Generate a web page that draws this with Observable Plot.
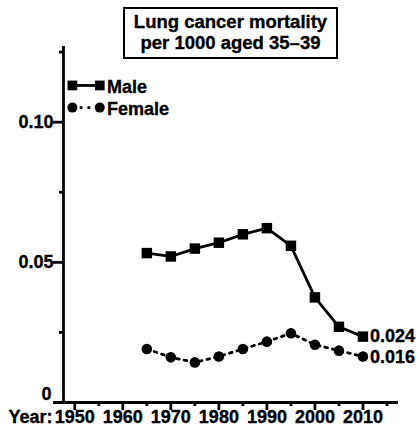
<!DOCTYPE html>
<html>
<head>
<meta charset="utf-8">
<script src="https://cdn.jsdelivr.net/npm/d3@7"></script>
<script src="https://cdn.jsdelivr.net/npm/@observablehq/plot@0.6"></script>
<style>
  body { margin: 0; background: #fff; }
  #wrap { position: relative; width: 419px; height: 435px; font-family: "Liberation Sans", Arial, sans-serif; }
  #title { position: absolute; left: 123px; top: 7px; width: 211px; height: 46px; border: 2.5px solid #000;
           font-weight: bold; font-size: 18.5px; line-height: 21px; text-align: center; box-sizing: content-box;
           padding-top: 2px; background: #fff; -webkit-text-stroke: 0.35px #000; white-space: nowrap; }
  svg text { stroke: #000; stroke-width: 0.35px; }
</style>
</head>
<body>
<div id="wrap"><div id="title">Lung cancer mortality<br>per 1000 aged 35–39</div></div>
<script>
const years = [1965, 1970, 1975, 1980, 1985, 1990, 1995, 2000, 2005, 2010];
const male = [0.0533, 0.0521, 0.0549, 0.0570, 0.0600, 0.0622, 0.0559, 0.0375, 0.0270, 0.0235];
const female = [0.0191, 0.0161, 0.0143, 0.0164, 0.0191, 0.0217, 0.0247, 0.0206, 0.0185, 0.0164];
const xMajor = [1950, 1960, 1970, 1980, 1990, 2000, 2010];
const xMinor = [1955, 1965, 1975, 1985, 1995, 2005, 2015];
const yMajor = [0.05, 0.10];
const yMajorLabels = ["0.05", "0.10"];
const yZero = [0];
const yZeroLabel = "0";
const yMinor = [0.025, 0.075, 0.125];
const endLabels = ["0.024", "0.016"];
const seriesNames = ["Male", "Female"];

const maleData = years.map((y, i) => ({year: y, v: male[i]}));
const femaleData = years.map((y, i) => ({year: y, v: female[i]}));
const lastM = maleData[maleData.length - 1];
const lastF = femaleData[femaleData.length - 1];

const W = 2.8;
const FS = 18;

const chart = Plot.plot({
  width: 419,
  height: 435,
  marginLeft: 63,
  marginRight: 21,
  marginTop: 46,
  marginBottom: 33,
  style: {fontFamily: "'Liberation Sans', Arial, sans-serif", fontSize: FS + "px", fontWeight: "bold", background: "transparent"},
  x: {domain: [1947.65, 2017.4]},
  y: {domain: [0, 0.127]},
  marks: [
    // axis lines
    Plot.ruleY([0], {x1: 1945.6, x2: 2017.4, strokeWidth: W}),
    Plot.ruleX([1947.65], {y1: 0, y2: 0.127, strokeWidth: W}),
    // x ticks
    Plot.axisX({ticks: xMajor, label: null, tickSize: 8, tickPadding: 0, tickFormat: d => String(d), strokeWidth: W, fontSize: FS, fontWeight: "bold"}),
    Plot.axisX({ticks: xMinor, label: null, tickSize: 4, tickFormat: () => "", strokeWidth: W}),
    // y ticks
    Plot.axisY({ticks: yMajor, label: null, tickSize: 10, tickPadding: 0, anchor: "left", tickFormat: (d, i) => yMajorLabels[i], strokeWidth: W, fontSize: FS, fontWeight: "bold"}),
    Plot.axisY({ticks: yZero, label: null, tickSize: 0, tickPadding: 12, dy: -8, anchor: "left", tickFormat: () => yZeroLabel, fontSize: FS, fontWeight: "bold"}),
    Plot.axisY({ticks: yMinor, label: null, tickSize: 4, anchor: "left", tickFormat: () => "", strokeWidth: W}),
    // Year label
    Plot.text(["Year:"], {frameAnchor: "bottom-left", text: d => d, textAnchor: "end", lineAnchor: "top", dx: -11, dy: 8, fontSize: FS, fontWeight: "bold"}),
    // series
    Plot.line(maleData, {x: "year", y: "v", strokeWidth: W}),
    Plot.dot(maleData, {x: "year", y: "v", symbol: "square", r: 5.9, fill: "black"}),
    Plot.line(femaleData, {x: "year", y: "v", strokeWidth: W, strokeDasharray: "2.8,5"}),
    Plot.dot(femaleData, {x: "year", y: "v", r: 5.3, fill: "black"}),
    // end labels
    Plot.text([lastM], {x: "year", y: "v", text: () => endLabels[0], textAnchor: "start", dx: 7, fontSize: FS, fontWeight: "bold"}),
    Plot.text([lastF], {x: "year", y: "v", text: () => endLabels[1], textAnchor: "start", dx: 7, dy: 1, fontSize: FS, fontWeight: "bold"}),
    // legend
    Plot.ruleY([0], {x1: 1949.5, x2: 1955.2, y: () => 0.1131, strokeWidth: W}),
    Plot.dot([1949.5, 1955.2], {x: d => d, y: () => 0.1131, symbol: "square", r: 5.5, fill: "black"}),
    Plot.ruleY([0], {x1: 1949.5, x2: 1955.2, y: () => 0.1052, strokeWidth: W, strokeDasharray: "2.8,5"}),
    Plot.dot([1949.5, 1955.2], {x: d => d, y: () => 0.1052, r: 5, fill: "black"}),
    Plot.text([seriesNames[0]], {x: () => 1956.7, y: () => 0.1131, text: d => d, textAnchor: "start", dy: 2, fontSize: FS, fontWeight: "bold"}),
    Plot.text([seriesNames[1]], {x: () => 1956.7, y: () => 0.1052, text: d => d, textAnchor: "start", dy: 2, fontSize: FS, fontWeight: "bold"})
  ]
});
document.getElementById("wrap").prepend(chart);
chart.style.position = "absolute";
chart.style.left = "0";
chart.style.top = "0";
</script>
</body>
</html>
